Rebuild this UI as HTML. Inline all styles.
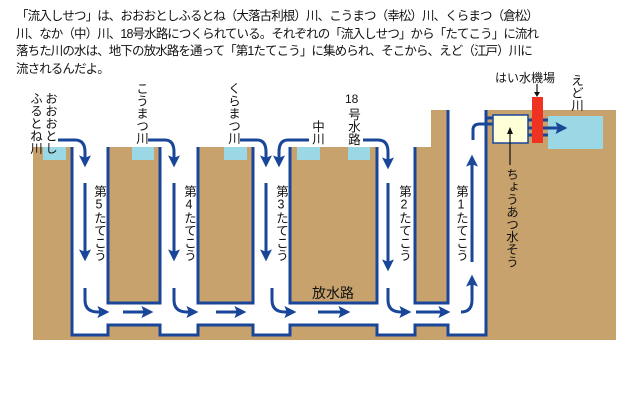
<!DOCTYPE html>
<html><head><meta charset="utf-8"><style>
body{margin:0;width:640px;height:400px;background:#fff;position:relative;overflow:hidden;font-family:"Liberation Sans","Noto Sans CJK JP",sans-serif;color:#111}
.p{position:absolute;left:16px;top:8px;font-size:12.5px;line-height:17.6px;white-space:nowrap;letter-spacing:-0.9px}
.v{position:absolute;writing-mode:vertical-rl;text-orientation:upright;font-size:12.5px;line-height:15px;white-space:pre;letter-spacing:0}
.h{position:absolute;font-size:12px;white-space:nowrap}
</style></head><body>
<div class="p">「流入しせつ」は、おおおとしふるとね（大落古利根）川、こうまつ（幸松）川、くらまつ（倉松）<br>川、なか（中）川、18号水路につくられている。それぞれの「流入しせつ」から「たてこう」に流れ<br>落ちた川の水は、地下の放水路を通って「第1たてこう」に集められ、そこから、えど（江戸）川に<br>流されるんだよ。</div>
<svg width="640" height="400" style="position:absolute;left:0;top:0">
<defs><marker id="a" markerWidth="4" markerHeight="4" refX="2.2" refY="2" orient="auto" markerUnits="strokeWidth"><path d="M0,0 L4,2 L0,4 L0.8,2z" fill="#1a469a"/></marker></defs>
<rect x="33" y="147" width="583" height="193" fill="#c8a26c"/>
<rect x="431" y="110" width="185" height="40" fill="#c8a26c"/>
<rect x="43" y="147" width="23" height="13" fill="#9bd8e6"/>
<rect x="132" y="147" width="22" height="13" fill="#9bd8e6"/>
<rect x="224" y="147" width="23" height="13" fill="#9bd8e6"/>
<rect x="297" y="147" width="23" height="13" fill="#9bd8e6"/>
<rect x="348" y="147" width="22" height="13" fill="#9bd8e6"/>
<rect x="548" y="116" width="55" height="33" fill="#9bd8e6"/>
<path d="M72,147 V335 H108 V325 H160 V335 H198 V325 H253 V335 H290 V325 H377 V335 H415 V325 H448 V335 H486 V110 H448 V303 H415 V147 H377 V303 H290 V147 H253 V303 H198 V147 H160 V303 H108 V147 Z" fill="#fff"/>
<g fill="none" stroke="#1a469a" stroke-width="3">
<path d="M72,147 V335 H108 V325 H160 V335 H198 V325 H253 V335 H290 V325 H377 V335 H415 V325 H448 V335 H486 V110"/>
<path d="M108,147 V303 H160 V147"/><path d="M198,147 V303 H253 V147"/>
<path d="M290,147 V303 H377 V147"/><path d="M415,147 V303 H448 V110"/>
</g>
<g fill="none" stroke="#1a469a" stroke-width="3">
<path d="M58,140 H75 Q85,140 85,152 V162" marker-end="url(#a)"/>
<path d="M85,183 V256" marker-end="url(#a)"/>
<path d="M85,288 V300 Q85,312 98,312 H104" marker-end="url(#a)"/>
<path d="M123,312 H148" marker-end="url(#a)"/>
<path d="M148,140 H165 Q174,140 174,152 V162" marker-end="url(#a)"/>
<path d="M174,183 V256" marker-end="url(#a)"/>
<path d="M174,288 V300 Q174,312 187,312 H193" marker-end="url(#a)"/>
<path d="M216,312 H241" marker-end="url(#a)"/>
<path d="M240,140 H257 Q266,140 266,152 V162" marker-end="url(#a)"/>
<path d="M309,140 H288 Q279,140 279,152 V162" marker-end="url(#a)"/>
<path d="M266,183 V256" marker-end="url(#a)"/>
<path d="M272,288 V300 Q272,312 285,312 H291" marker-end="url(#a)"/>
<path d="M318,312 H345" marker-end="url(#a)"/>
<path d="M363,140 H378 Q388,140 388,152 V164" marker-end="url(#a)"/>
<path d="M388,183 V266" marker-end="url(#a)"/>
<path d="M388,288 V300 Q388,312 401,312 H406" marker-end="url(#a)"/>
<path d="M416,312 H445" marker-end="url(#a)"/>
<path d="M461,312 Q472,312 472,300 V280" marker-end="url(#a)"/>
<path d="M472,262 V160" marker-end="url(#a)"/>
<path d="M473,140 V130 Q473,124 480,124 H493"/>
<path d="M486,118 H493"/>
<path d="M528,120 H548 M528,135 H548"/>
<path d="M528,128 H562" marker-end="url(#a)"/>
</g>
<rect x="493" y="115" width="35" height="28" fill="#ffffd8" stroke="#1a469a" stroke-width="1.5"/>
<rect x="532" y="97" width="11" height="46" fill="#ee3322"/>
<g stroke="#111" stroke-width="1.2"><line x1="510" y1="165" x2="510" y2="132"/><line x1="537" y1="84" x2="537" y2="93"/></g>
<path d="M507,134 L510,127 L513,134Z M534,92 L537,97 L540,92Z" fill="#111"/>
<text x="312" y="298" font-size="14" font-family="Liberation Sans,Noto Sans CJK JP,sans-serif" fill="#111">放水路</text>
</svg>
<div class="v" style="left:27px;top:92px">おおおとし
ふるとね川</div>
<div class="v" style="left:133px;top:82px">こうまつ川</div>
<div class="v" style="left:225px;top:82px">くらまつ川</div>
<div class="v" style="left:309px;top:120px">中川</div>
<div class="h" style="left:345px;top:92px">18</div>
<div class="v" style="left:345px;top:108px">号水路</div>
<div class="v" style="left:91px;top:185px">第5たてこう</div>
<div class="v" style="left:181px;top:185px">第4たてこう</div>
<div class="v" style="left:273px;top:185px">第3たてこう</div>
<div class="v" style="left:396px;top:185px">第2たてこう</div>
<div class="v" style="left:453px;top:185px">第1たてこう</div>
<div class="v" style="left:503px;top:168px">ちょうあつ水そう</div>
<div class="h" style="left:495px;top:69px">はい水機場</div>
<div class="v" style="left:568px;top:74px">えど川</div>
</body></html>
